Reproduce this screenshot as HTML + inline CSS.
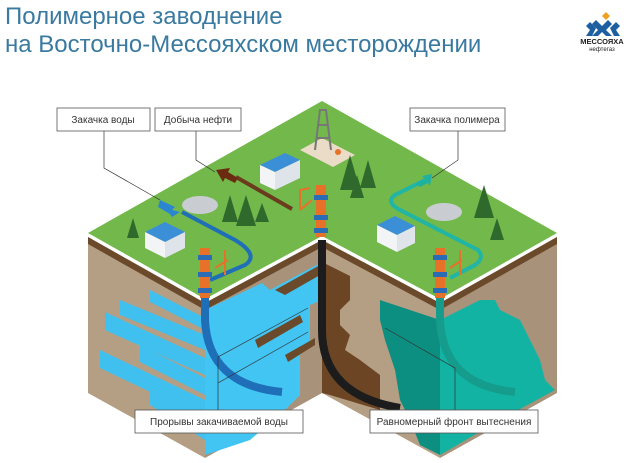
<!DOCTYPE html>
<html><head><meta charset="utf-8"><style>
html,body{margin:0;padding:0;background:#fff;}
body{width:641px;height:463px;overflow:hidden;position:relative;font-family:"Liberation Sans",sans-serif;}
.t{position:absolute;left:5px;color:#3a7aa0;font-size:24px;font-weight:300;letter-spacing:0px;white-space:nowrap}
</style></head><body>
<div class="t" style="top:3px">Полимерное заводнение</div>
<div class="t" style="top:31px">на Восточно-Мессояхском месторождении</div>
<svg width="641" height="463" style="position:absolute;left:0;top:0" font-family="Liberation Sans, sans-serif">
<!-- logo -->
<polygon points="606,12 610,16 606,20 602,16" fill="#f0a020"/>
<g fill="#1d5fa0">
<polygon points="596,20 602,26 608,20 612,24 606,30 612,36 606,36 602,32 598,36 592,36 598,30 592,24"/>
<polygon points="610,28 616,22 620,26 616,30 620,36 614,36"/>
<polygon points="596,28 590,22 586,26 590,30 586,36 592,36"/>
</g>
<text x="602" y="44" font-size="7.5" font-weight="bold" fill="#222" text-anchor="middle">МЕССОЯХА</text>
<text x="602" y="51" font-size="6" fill="#222" text-anchor="middle">нефтегаз</text>

<!-- soil faces -->
<polygon points="88,237 205,303 205,458 88,393" fill="#b59f84"/>
<polygon points="205,303 322,240 322,393 205,458" fill="#a8927a"/>
<polygon points="322,240 440,303 440,458 322,393" fill="#b59f84"/>
<polygon points="440,303 557,237 557,393 440,458" fill="#a8927a"/>
<!-- water left block left face (stripes) -->
<g fill="#3fc0ee">
<polygon points="120,300 205,335 205,350 120,315"/>
<polygon points="105,312 205,358 205,375 105,330"/>
<polygon points="140,345 205,378 205,395 140,362"/>
<polygon points="100,350 205,400 205,418 100,368"/>
<polygon points="150,385 205,420 205,440 150,405"/>
<polygon points="150,290 205,318 205,330 150,302"/>
</g>
<polygon points="205,310 262,283 270,290 322,262 322,300 310,305 310,345 300,355 300,395 285,410 250,440 205,455" fill="#42c5f2"/>
<polygon points="275,290 320,265 320,275 285,295" fill="#6b4a2b"/>
<polygon points="255,340 300,315 303,322 258,348" fill="#6b4a2b"/>
<polygon points="285,355 315,338 315,345 288,362" fill="#6b4a2b"/>
<!-- oil center -->
<polygon points="322,262 350,276 350,300 340,310 340,325 350,335 345,350 360,360 380,375 380,410 330,395 322,393" fill="#6b4524"/>
<!-- teal right block -->
<polygon points="380,300 425,315 440,320 440,455 420,445 410,420 400,400 395,370 385,340 380,320" fill="#0c8f80"/>
<polygon points="440,320 480,300 495,300 500,310 520,320 530,340 540,360 545,380 555,390 500,420 440,455" fill="#12b3a2"/>
<!-- ground strip -->
<polygon points="88,237 205,303 322,240 440,303 557,237 557,244 440,310 322,247 205,310 88,244" fill="#6b4a2b"/>
<!-- green top -->
<polygon points="88,233 322,101 557,233 440,299 322,236 205,299" fill="#72b84b"/>
<!-- pipes -->
<path d="M322,240 V330 Q322,395 400,408" stroke="#1c1c1c" stroke-width="8" fill="none"/>
<path d="M205,298 V320 Q208,385 282,392" stroke="#1f6fb8" stroke-width="8" fill="none"/>
<path d="M440,298 V320 Q443,385 515,392" stroke="#159c8d" stroke-width="8" fill="none"/>
<!-- surface lines -->
<path d="M182,212 L235,240 Q260,255 245,265 L210,280" stroke="#1f6fb8" stroke-width="4" fill="none"/>
<polygon points="160,200 175,207 172,210 180,212 172,217 170,214 158,207" fill="#2a86d0"/>
<path d="M292,209 L236,177" stroke="#6b3b1e" stroke-width="4"/>
<polygon points="216,170 230,168 228,172 238,178 235,183 225,178 223,182" fill="#6b2b10"/>
<path d="M425,180 L395,195 Q385,202 400,210 L478,250 Q485,258 475,265 L450,278" stroke="#20b5a5" stroke-width="4" fill="none"/>
<polygon points="432,174 422,176 425,179 416,184 420,187 428,183 430,186" fill="#20b0a0"/>
<!-- wellheads -->
<g fill="#e8712a">
<rect x="316" y="185" width="10" height="52"/><rect x="200" y="248" width="10" height="50"/><rect x="435" y="248" width="10" height="50"/>
</g>
<g fill="#2b6db5">
<rect x="314" y="195" width="14" height="5"/><rect x="314" y="215" width="14" height="5"/><rect x="314" y="228" width="14" height="5"/>
<rect x="198" y="255" width="14" height="5"/><rect x="198" y="272" width="14" height="5"/><rect x="198" y="288" width="14" height="5"/>
<rect x="433" y="255" width="14" height="5"/><rect x="433" y="272" width="14" height="5"/><rect x="433" y="288" width="14" height="5"/>
</g>
<path d="M300,210 V190 L310,188 M300,210 L312,200" stroke="#e8712a" stroke-width="2" fill="none"/>
<path d="M225,275 V250 M215,268 L228,260" stroke="#e8712a" stroke-width="2" fill="none"/>
<path d="M460,275 V250 M450,268 L462,260" stroke="#e8712a" stroke-width="2" fill="none"/>
<!-- derrick + pad -->
<polygon points="300,150 322,138 355,155 333,167" fill="#eadcc6"/>
<path d="M315,150 L320,110 L326,110 L331,150 M318,125 H328 M316,138 H330" stroke="#777" stroke-width="2" fill="none"/>
<circle cx="338" cy="152" r="3" fill="#e8712a"/>
<!-- buildings -->
<g>
<polygon points="260,165 285,153 300,160 275,172" fill="#3a8fd6"/><polygon points="260,165 275,172 275,190 260,183" fill="#f2f4f6"/><polygon points="275,172 300,160 300,178 275,190" fill="#dfe4ea"/>
<polygon points="145,232 165,222 185,232 165,242" fill="#3a8fd6"/><polygon points="145,232 165,242 165,258 145,248" fill="#f2f4f6"/><polygon points="165,242 185,232 185,248 165,258" fill="#dfe4ea"/>
<polygon points="377,225 395,216 415,226 397,235" fill="#3a8fd6"/><polygon points="377,225 397,235 397,252 377,242" fill="#f2f4f6"/><polygon points="397,235 415,226 415,243 397,252" fill="#dfe4ea"/>
</g>
<!-- tanks -->
<ellipse cx="200" cy="205" rx="18" ry="9" fill="#c9cdd1"/><ellipse cx="444" cy="212" rx="18" ry="9" fill="#c9cdd1"/>
<!-- trees -->
<g fill="#2f6a2c">
<polygon points="230,195 222,222 238,222"/><polygon points="246,195 236,226 256,226"/><polygon points="262,203 255,222 269,222"/>
<polygon points="133,218 127,238 139,238"/>
<polygon points="350,155 340,190 360,190"/><polygon points="368,160 360,188 376,188"/><polygon points="357,175 350,198 364,198"/>
<polygon points="484,185 474,218 494,218"/><polygon points="497,218 490,240 504,240"/>
</g>
<!-- leader lines -->
<g stroke="#333" stroke-width="0.7" fill="none">
<path d="M104,131 V168 L160,200"/><path d="M196,131 V160 L215,172"/><path d="M458,131 V160 L432,178"/>
<path d="M218,410 V357 L308,308 M218,383 L308,332"/><path d="M455,410 V368 L385,328"/>
</g>
<!-- label boxes -->
<g fill="#fff" stroke="#555" stroke-width="0.8">
<rect x="57" y="108" width="93" height="23"/><rect x="155" y="108" width="86" height="23"/><rect x="410" y="108" width="95" height="23"/>
<rect x="135" y="410" width="168" height="23"/><rect x="370" y="410" width="168" height="23"/>
</g>
<g font-size="10" fill="#333" text-anchor="middle">
<text x="103" y="123">Закачка воды</text><text x="198" y="123">Добыча нефти</text><text x="457" y="123">Закачка полимера</text>
<text x="219" y="425">Прорывы закачиваемой воды</text><text x="454" y="425">Равномерный фронт вытеснения</text>
</g>
</svg>
</body></html>
